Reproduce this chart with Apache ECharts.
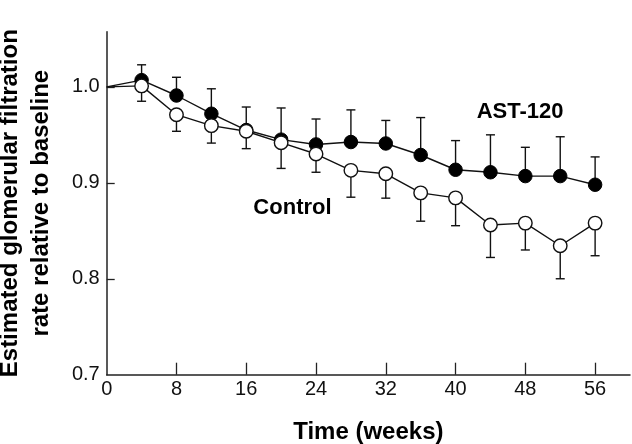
<!DOCTYPE html>
<html>
<head>
<meta charset="utf-8">
<script src="https://cdn.jsdelivr.net/npm/echarts@6/dist/echarts.min.js"></script>
<style>html,body{margin:0;padding:0;background:#fff}#c{width:632px;height:444px}</style>
</head>
<body>
<div id="c"></div>
<script>
// ---- data ----
const weeks = [0, 4, 8, 12, 16, 20, 24, 28, 32, 36, 40, 44, 48, 52, 56];
const ast120 = [1.0, 1.007, 0.991, 0.972, 0.955, 0.945, 0.940, 0.9425, 0.941, 0.929, 0.9136, 0.911, 0.907, 0.907, 0.898];
const ast120Upper = [null, 1.023, 1.010, 0.998, 0.979, 0.978, 0.9665, 0.976, 0.965, 0.968, 0.944, 0.950, 0.937, 0.948, 0.927];
const control = [1.0, 1.001, 0.971, 0.9596, 0.9537, 0.9418, 0.930, 0.913, 0.9094, 0.8895, 0.8843, 0.856, 0.858, 0.8344, 0.858];
const controlLower = [null, 0.985, 0.9537, 0.9414, 0.9356, 0.915, 0.911, 0.885, 0.884, 0.860, 0.8553, 0.8222, 0.830, 0.800, 0.824];
const xLabels = [0, 8, 16, 24, 32, 40, 48, 56];
const xTicks = [8, 16, 24, 32, 40, 48, 56];
const yLabels = [0.7, 0.8, 0.9, 1.0];
const yTicks = [0.8, 0.9, 1.0];
const seriesNames = ['AST-120', 'Control'];
const annotationAt = [[47.4, 0.9738], [21.3, 0.874]];

const FONT = '"Liberation Sans", Arial, Helvetica, sans-serif';
function pts(vals) {
  return weeks.map((w, i) => i === 0 ? { value: [w, vals[i]], symbol: 'none' } : { value: [w, vals[i]] });
}
function errData(vals, ends) {
  const out = [];
  weeks.forEach((w, i) => { if (ends[i] != null) out.push([w, vals[i], ends[i]]); });
  return out;
}
function errRender(params, api) {
  const p0 = api.coord([api.value(0), api.value(1)]);
  const p1 = api.coord([api.value(0), api.value(2)]);
  const hw = 4.5;
  const st = { stroke: '#111', lineWidth: 1.4 };
  return {
    type: 'group',
    children: [
      { type: 'line', shape: { x1: p0[0], y1: p0[1], x2: p1[0], y2: p1[1] }, style: st },
      { type: 'line', shape: { x1: p1[0] - hw, y1: p1[1], x2: p1[0] + hw, y2: p1[1] }, style: st }
    ]
  };
}

const chart = echarts.init(document.getElementById('c'), null, { renderer: 'canvas' });
chart.setOption({
  animation: false,
  backgroundColor: '#fff',
  grid: { left: 106.7, right: 2, top: 31.7, bottom: 69.3, containLabel: false, outerBoundsMode: 'none' },
  xAxis: {
    type: 'value', min: 0, max: 60, interval: 4,
    axisLine: { lineStyle: { color: '#222', width: 1.5 } },
    axisTick: { inside: true, length: 12, customValues: xTicks, lineStyle: { color: '#222', width: 1.3 } },
    axisLabel: { customValues: xLabels, fontSize: 20, color: '#111', fontFamily: FONT, margin: 5 },
    splitLine: { show: false },
    name: 'Time (weeks)', nameLocation: 'middle', nameGap: 46,
    nameTextStyle: { fontSize: 24, fontWeight: 'bold', color: '#000', fontFamily: FONT }
  },
  yAxis: {
    type: 'value', min: 0.7, max: 1.0575,
    axisLine: { show: true, lineStyle: { color: '#222', width: 1.5 } },
    axisTick: { show: true, inside: true, length: 8, customValues: yTicks, lineStyle: { color: '#222', width: 1.3 } },
    axisLabel: { customValues: yLabels, fontSize: 20, color: '#111', fontFamily: FONT, margin: 7,
      formatter: v => Number(v).toFixed(1) },
    splitLine: { show: false },
    name: 'Estimated glomerular filtration\nrate relative to baseline', nameLocation: 'middle', nameGap: 50, nameRotate: 90,
    nameTextStyle: { fontSize: 24, fontWeight: 'bold', color: '#000', fontFamily: FONT, lineHeight: 31, align: 'center' }
  },
  series: [
    { type: 'custom', name: seriesNames[0] + ' err', data: errData(ast120, ast120Upper), renderItem: errRender, z: 1, silent: true },
    { type: 'custom', name: seriesNames[1] + ' err', data: errData(control, controlLower), renderItem: errRender, z: 1, silent: true },
    { type: 'line', name: seriesNames[0], data: pts(ast120), symbol: 'circle', symbolSize: 13.5, z: 3,
      lineStyle: { color: '#111', width: 1.4 }, itemStyle: { color: '#000', borderColor: '#000', borderWidth: 1 } },
    { type: 'line', name: seriesNames[1], data: pts(control), symbol: 'circle', symbolSize: 13.5, z: 4,
      lineStyle: { color: '#111', width: 1.4 }, itemStyle: { color: '#fff', borderColor: '#111', borderWidth: 1.4 } },
    { type: 'scatter', symbolSize: 0, silent: true, z: 5, itemStyle: { color: '#000', opacity: 1 },
      data: annotationAt.map((p, i) => ({ value: p, label: { show: true, formatter: seriesNames[i] } })),
      label: { position: 'inside', fontSize: 22, fontWeight: 'bold', color: '#000', fontFamily: FONT,
        textBorderWidth: 0, textBorderColor: 'transparent' } }
  ]
});
</script>
</body>
</html>
